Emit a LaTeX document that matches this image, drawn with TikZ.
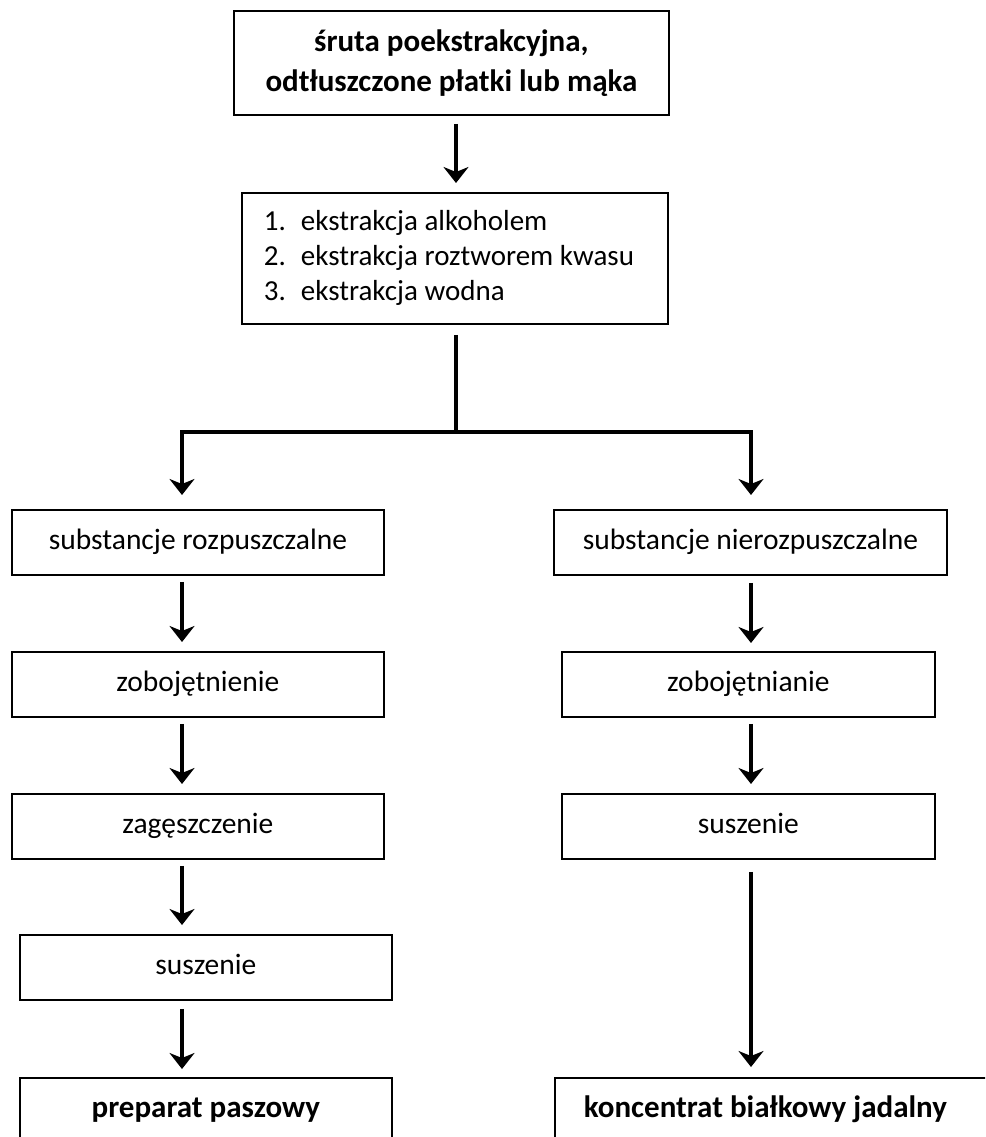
\documentclass[tikz,border=0pt]{standalone}
\usepackage{fontspec}
\setmainfont{Carlito}
\usetikzlibrary{arrows.meta}
\tikzset{
  stepbox/.style={draw, line width=1.8pt, inner sep=0pt, anchor=north west,
    font=\fontsize{29.5}{35}\selectfont},
  single/.style={stepbox, minimum height=65pt, text height=20pt, text depth=6pt},
  result/.style={font=\bfseries\fontsize{31}{35}\selectfont},
  flow/.style={line width=3.4pt, -{Stealth[length=16pt,width=25pt,inset=5pt]}},
  link/.style={line width=3.4pt}
}
\begin{document}
\begin{tikzpicture}[x=1pt,y=-1pt]
\useasboundingbox (0,0) rectangle (985,1137);
\clip (0,0) rectangle (985,1137);

% raw material and extraction
\node[stepbox, minimum width=435pt, minimum height=104pt, align=center,
      font=\bfseries\fontsize{31}{40}\selectfont] (src) at (233,10)
  {śruta poekstrakcyjna,\\odtłuszczone płatki lub mąka};
\node[stepbox, minimum width=426pt, minimum height=131pt, inner xsep=22pt,
      font=\fontsize{29}{35}\selectfont] (ext) at (241,192)
  {\makebox[382pt][l]{\begin{tabular}{@{}p{37pt}@{}l@{}}
     1. & ekstrakcja alkoholem\\
     2. & ekstrakcja roztworem kwasu\\
     3. & ekstrakcja wodna
   \end{tabular}}};

% soluble branch
\node[single, minimum width=372pt] (L1) at (11,509) {substancje rozpuszczalne};
\node[single, minimum width=372pt] (L2) at (11,651) {zobojętnienie};
\node[single, minimum width=372pt] (L3) at (11,793) {zagęszczenie};
\node[single, minimum width=372pt] (L4) at (19,934) {suszenie};
\node[single, result, minimum width=372pt] (L5) at (19,1077) {preparat paszowy};

% insoluble branch
\node[single, minimum width=393pt] (R1) at (553,509) {substancje nierozpuszczalne};
\node[single, minimum width=373pt] (R2) at (561,651) {zobojętnianie};
\node[single, minimum width=373pt] (R3) at (561,793) {suszenie};
\node[single, result, minimum width=446pt, inner xsep=29pt] (R4) at (554,1077)
  {\makebox[388pt][l]{koncentrat białkowy jadalny}};

% fork
\coordinate (fork) at (456,432);
\coordinate (forkL) at (182,432);
\coordinate (forkR) at (751,432);

\draw[flow, shorten <=8pt, shorten >=9pt] (src.south -| fork) -- (ext.north -| fork);
\draw[link, shorten <=10pt] (ext.south -| fork) -- (fork);
\draw[link, line cap=rect] (forkL) -- (forkR);
\draw[flow, shorten >=14pt] (forkL) -- (L1.north -| forkL);
\draw[flow, shorten >=14pt] (forkR) -- (R1.north -| forkR);

\draw[flow, shorten <=6pt, shorten >=9pt] (L1.south -| forkL) -- (L2.north -| forkL);
\draw[flow, shorten <=6pt, shorten >=9pt] (L2.south -| forkL) -- (L3.north -| forkL);
\draw[flow, shorten <=6pt, shorten >=9pt] (L3.south -| forkL) -- (L4.north -| forkL);
\draw[flow, shorten <=8pt, shorten >=8pt] (L4.south -| forkL) -- (L5.north -| forkL);

\draw[flow, shorten <=7pt, shorten >=8pt] (R1.south -| forkR) -- (R2.north -| forkR);
\draw[flow, shorten <=6pt, shorten >=9pt] (R2.south -| forkR) -- (R3.north -| forkR);
\draw[flow, shorten <=12pt, shorten >=10pt] (R3.south -| forkR) -- (R4.north -| forkR);
\end{tikzpicture}
\end{document}
